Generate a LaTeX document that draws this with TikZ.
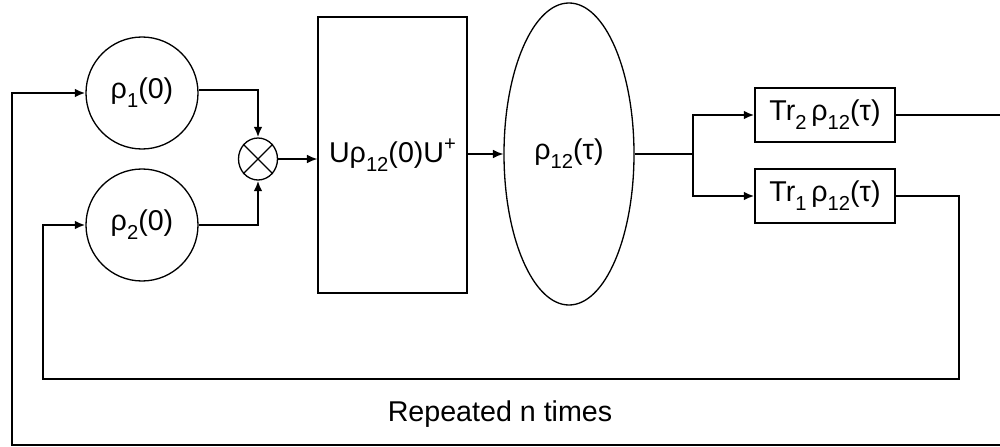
\documentclass[tikz,border=0pt]{standalone}
\usepackage{fontspec}
\setmainfont{Liberation Sans}
\usetikzlibrary{arrows.meta,shapes.geometric}
\newcommand{\sbt}[1]{\raisebox{-0.32em}{\fontsize{11.5}{12}\selectfont #1}}
\newcommand{\spt}[1]{\raisebox{0.42em}{\fontsize{11.5}{12}\selectfont #1}}
\begin{document}
\begin{tikzpicture}[x=0.02cm,y=-0.02cm,
  every node/.style={font=\fontsize{16.3}{19}\selectfont},
  shapeline/.style={draw=black,line width=0.75pt},
  circ/.style={shapeline,circle,minimum size=112*0.02cm,inner sep=0pt},
  bx/.style={shapeline,rectangle,inner sep=0pt},
  conn/.style={line width=1.3pt,-{Latex[length=6pt,width=5pt]}},
  plain/.style={line width=1.3pt},
  thinarr/.style={line width=0.7pt,-{Latex[length=6pt,width=5pt]}}]
\useasboundingbox (0,0) rectangle (1000,446);

\node[circ] (c1) at (142,93) {ρ\sbt{1}(0)};
\node[circ] (c2) at (142,225) {ρ\sbt{2}(0)};
\node[shapeline,ellipse,minimum width=39*0.02cm,minimum height=42*0.02cm,inner sep=0pt] (ot) at (258,159) {};
\draw[line width=0.75pt] (ot.45) -- (ot.225) (ot.135) -- (ot.315);
\node[bx,minimum width=149*0.02cm,minimum height=276*0.02cm] (box) at (392.5,155) {Uρ\sbt{12}(0)U\spt{+}};
\node[shapeline,ellipse,minimum width=130*0.02cm,minimum height=302*0.02cm,inner sep=0pt] (ell) at (569,154) {ρ\sbt{12}(τ)};
\node[bx,minimum width=140*0.02cm,minimum height=54*0.02cm] (tr2) at (825,115) {Tr\sbt{2}\,ρ\sbt{12}(τ)};
\node[bx,minimum width=140*0.02cm,minimum height=54*0.02cm] (tr1) at (825,196) {Tr\sbt{1}\,ρ\sbt{12}(τ)};
\node (rep) at (500,414) {Repeated n times};

\coordinate (s) at (693,154);
\coordinate (i2) at (959,379);
\coordinate (i3) at (43,379);
\coordinate (o1) at (1010,115);
\coordinate (o2) at (12,445);

\draw[conn] (c1.3) -| (ot.north);
\draw[conn] (c2.east) -| (ot.south);
\draw[thinarr] (ot.east) -- (ot.east -| box.west);
\draw[thinarr] (box.east |- ell.west) -- (ell.west);
\draw[plain] (ell.east) -- (s);
\draw[conn] (s) |- (tr2.west);
\draw[conn] (s) |- (tr1.west);
\draw[conn] (tr1.east) -| (i2) -- (i3) |- (c2.west);
\draw[conn] (tr2.east) -- (o1) |- (o2) |- (c1.west);
\end{tikzpicture}
\end{document}
